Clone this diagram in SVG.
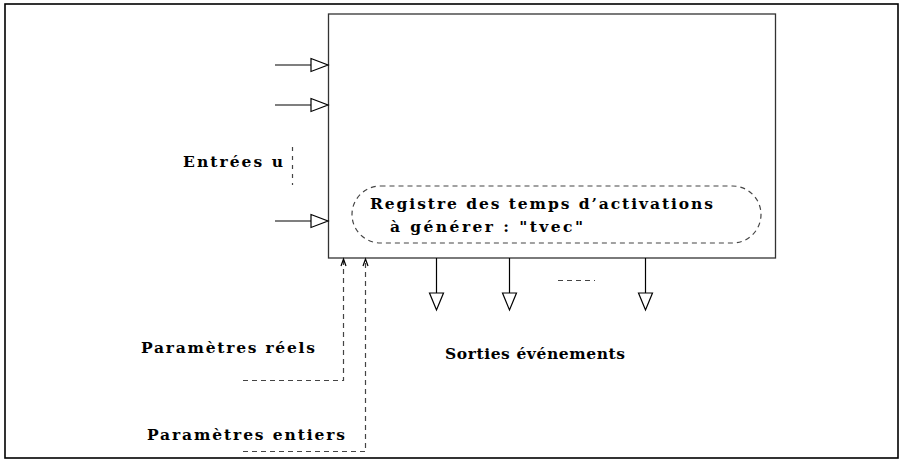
<svg xmlns="http://www.w3.org/2000/svg" width="904" height="462" viewBox="0 0 904 462">
<style>
text{font-family:"DejaVu Serif","Liberation Serif",serif;font-weight:bold;font-size:15.5px;fill:#000}
.s{stroke:#000;stroke-width:1.2;fill:none}
.d{stroke:#444;stroke-width:1.2;fill:none;stroke-dasharray:5,4}
.tri{stroke:#000;stroke-width:1.2;fill:#fff}
</style>
<rect x="0" y="0" width="904" height="462" fill="#fff"/>
<rect x="5" y="4" width="893" height="454" fill="none" stroke="#000" stroke-width="1.6"/>
<g id="block">
<rect x="328.5" y="14" width="447" height="244" fill="none" stroke="#333" stroke-width="1.3"/>
</g>
<g id="registre">
<rect x="352" y="186" width="409" height="57" rx="28.5" ry="28.5" class="d"/>
<text x="370" y="209" textLength="343" lengthAdjust="spacing">Registre des temps d’activations</text>
<text x="390" y="232" textLength="193" lengthAdjust="spacing">à générer : "tvec"</text>
</g>
<g id="entrees">
<text x="183" y="167" textLength="100" lengthAdjust="spacing">Entrées u</text>
</g>
<g id="sorties">
<text x="445" y="359" textLength="180" lengthAdjust="spacing">Sorties événements</text>
</g>
<g id="param-reels">
<text x="141" y="353" textLength="174" lengthAdjust="spacing">Paramètres réels</text>
</g>
<g id="param-entiers">
<text x="147" y="440" textLength="198" lengthAdjust="spacing">Paramètres entiers</text>
</g>
<g id="connectors">
<line x1="275" y1="65" x2="311" y2="65" class="s"/>
<polygon points="311,58.5 328,65 311,71.5" class="tri"/>
<line x1="275" y1="105" x2="311" y2="105" class="s"/>
<polygon points="311,98.5 328,105 311,111.5" class="tri"/>
<line x1="275" y1="221" x2="311" y2="221" class="s"/>
<polygon points="311,214.5 328,221 311,227.5" class="tri"/>
<line x1="292.5" y1="147" x2="292.5" y2="185" class="d" style="stroke-dasharray:4,5"/>
<line x1="436.5" y1="258" x2="436.5" y2="293" class="s"/>
<polygon points="429.5,293 443.5,293 436.5,310" class="tri"/>
<line x1="509.5" y1="258" x2="509.5" y2="293" class="s"/>
<polygon points="502.5,293 516.5,293 509.5,310" class="tri"/>
<line x1="645.5" y1="258" x2="645.5" y2="293" class="s"/>
<polygon points="638.5,293 652.5,293 645.5,310" class="tri"/>
<line x1="558" y1="280.5" x2="595" y2="280.5" class="d"/>
<path d="M243,380.5 H343.5 V260" class="d"/>
<path d="M341,266 L343.5,259 L346,266" class="s" stroke-width="1"/>
<path d="M243,451.5 H365.5 V260" class="d"/>
<path d="M363,266 L365.5,259 L368,266" class="s" stroke-width="1"/>
</g>
</svg>
